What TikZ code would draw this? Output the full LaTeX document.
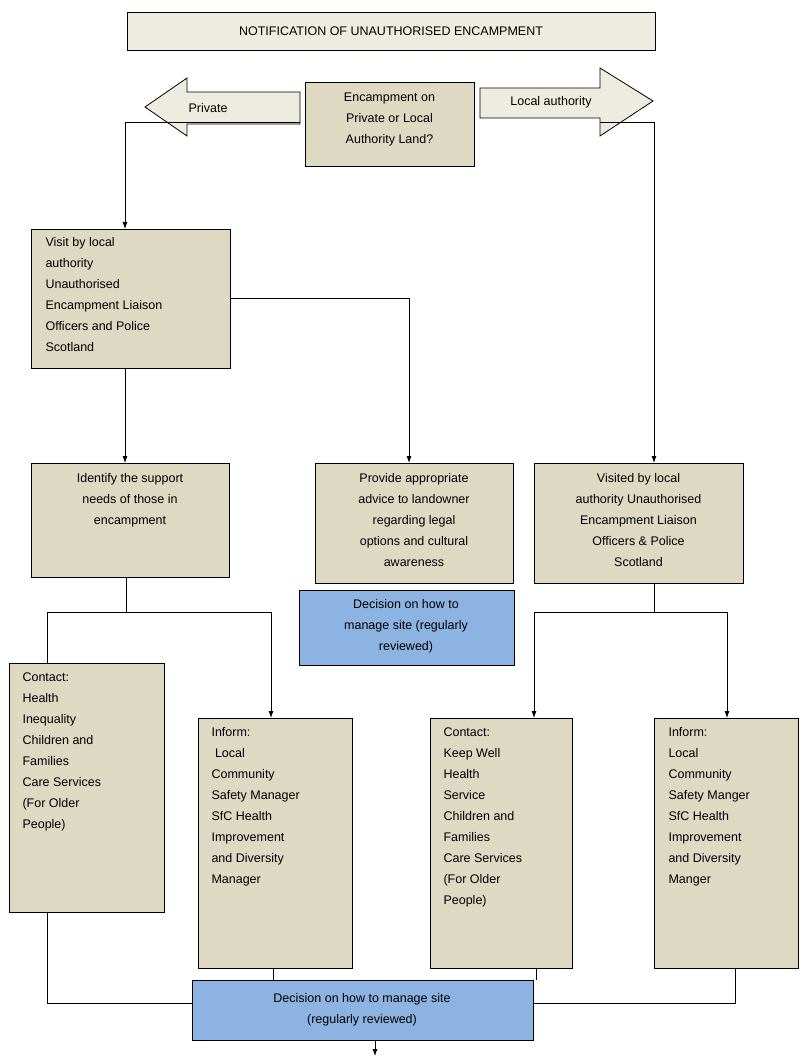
\documentclass[tikz,border=0pt]{standalone}
\usepackage{fontspec}
\setmainfont{Liberation Sans}
\usetikzlibrary{arrows.meta}
\begin{document}
\begin{tikzpicture}[x=1pt,y=-1pt,font=\fontsize{12.5}{21}\selectfont,
  bx/.style={draw,fill=beige,line width=0.8pt},
  bl/.style={draw,fill=blu,line width=0.8pt},
  ln/.style={line width=0.8pt},
  ar/.style={line width=0.8pt,-{Latex[length=7pt,width=5pt]}}]
\definecolor{beige}{HTML}{DDD9C3}
\definecolor{light}{HTML}{EEECE1}
\definecolor{blu}{HTML}{8DB3E2}
\useasboundingbox (0,0) rectangle (811,1064);
% title
\draw[fill=light,ln] (127,12) rectangle (655,50);
\node (title) at (391,31) {NOTIFICATION OF UNAUTHORISED ENCAMPMENT};
% arrows
\draw[fill=light,ln] (300,92) -- (187,92) -- (187,78) -- (145,107) -- (187,136) -- (187,124) -- (300,124) -- cycle;
\node (priv) at (208,108) {Private};
\draw[fill=light,ln] (480,88) -- (600,88) -- (600,68) -- (653,101) -- (600,136) -- (600,118) -- (480,118) -- cycle;
\node (la) at (551,102) {Local authority};
% question
\draw[bx] (305,82) rectangle (474,166);
\node[align=center] (q) at (389.5,119) {Encampment on\\Private or Local\\Authority Land?};
% boxes
\draw[bx] (31,229) rectangle (230,368);
\node[align=left,anchor=north west] (visit) at (42,234) {Visit by local\\authority\\Unauthorised\\Encampment Liaison\\Officers and Police\\Scotland};
\draw[bx] (31,463) rectangle (229,577);
\node[align=center,anchor=north] (ident) at (130,470) {Identify the support\\needs of those in\\encampment};
\draw[bx] (315,463) rectangle (513,583);
\node[align=center,anchor=north] (prov) at (414,470) {Provide appropriate\\advice to landowner\\regarding legal\\options and cultural\\awareness};
\draw[bl] (299,590) rectangle (514,665);
\node[align=center,anchor=north] (dec1) at (406,596) {Decision on how to\\manage site (regularly\\reviewed)};
\draw[bx] (534,463) rectangle (743,583);
\node[align=center,anchor=north] (vis2) at (638.5,470) {Visited by local\\authority Unauthorised\\Encampment Liaison\\Officers \& Police\\Scotland};
\draw[bx] (9,663) rectangle (164,912);
\node[align=left,anchor=north west] (c1) at (19,669) {Contact:\\Health\\Inequality\\Children and\\Families\\Care Services\\(For Older\\People)};
\draw[bx] (198,718) rectangle (352,968);
\node[align=left,anchor=north west] (i1) at (208,724) {Inform:\\\ Local\\Community\\Safety Manager\\SfC Health\\Improvement\\and Diversity\\Manager};
\draw[bx] (430,718) rectangle (572,968);
\node[align=left,anchor=north west] (c2) at (440,724) {Contact:\\Keep Well\\Health\\Service\\Children and\\Families\\Care Services\\(For Older\\People)};
\draw[bx] (654,718) rectangle (798,968);
\node[align=left,anchor=north west] (i2) at (665,724) {Inform:\\Local\\Community\\Safety Manger\\SfC Health\\Improvement\\and Diversity\\Manger};
\draw[bl] (192,980) rectangle (533,1040);
\node[align=center] (dec2) at (362,1010) {Decision on how to manage site\\(regularly reviewed)};
% connectors
\draw[ln] (300,122) -- (125,122);
\draw[ar] (125,122) -- (125,229);
\draw[ln] (600,122) -- (654,122);
\draw[ar] (654,122) -- (654,463);
\draw[ln] (230,298) -- (409,298);
\draw[ar] (409,298) -- (409,463);
\draw[ar] (125,368) -- (125,463);
\draw[ln] (126,577) -- (126,612) (47,612) -- (271,612) (47,612) -- (47,663);
\draw[ar] (271,612) -- (271,718);
\draw[ln] (654,583) -- (654,612) (534,612) -- (727,612);
\draw[ar] (534,612) -- (534,718);
\draw[ar] (727,612) -- (727,718);
\draw[ln] (47,912) -- (47,1003) -- (192,1003);
\draw[ln] (273,968) -- (273,980);
\draw[ln] (536,968) -- (536,980);
\draw[ln] (735,968) -- (735,1003) -- (533,1003);
\draw[ar] (375,1040) -- (375,1056);
\end{tikzpicture}
\end{document}
